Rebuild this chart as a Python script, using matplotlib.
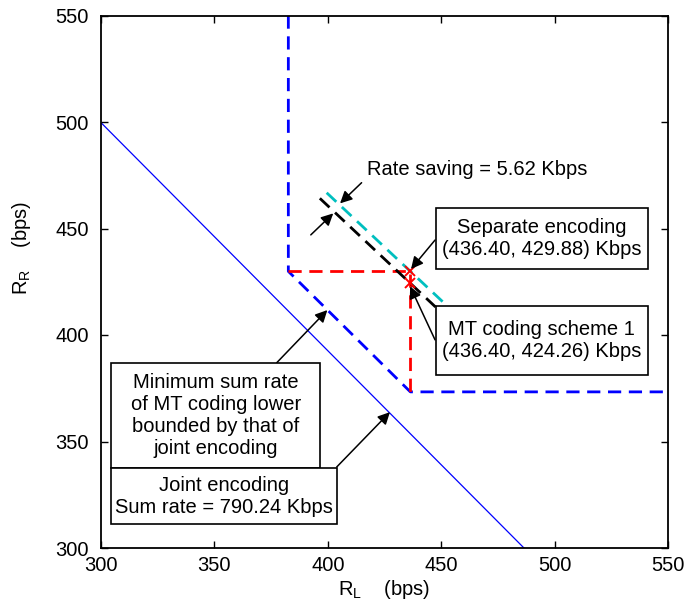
import matplotlib
matplotlib.use("Agg")
import matplotlib.pyplot as plt
from matplotlib.patches import Rectangle

plt.rcParams['font.family'] = ['Liberation Sans', 'DejaVu Sans']
plt.rcParams['lines.scale_dashes'] = False

# ---- data ----
joint_L = [300.0, 486.5]
joint_R = [499.7, 300.0]

mt_region_L = [382.6, 382.6, 436.4, 550.0]
mt_region_R = [550.0, 429.88, 373.3, 373.3]

sep_box_L = [382.6, 436.4, 436.4]
sep_box_R = [429.88, 429.88, 373.3]

sep_point = (436.40, 429.88)
mt_point = (436.40, 424.26)

sep_line_L = [399.5, 451.0]
sep_sum = sep_point[0] + sep_point[1]
mt_line_L = [396.5, 447.5]
mt_sum = mt_point[0] + mt_point[1]

xticks = [300, 350, 400, 450, 500, 550]
yticks = [300, 350, 400, 450, 500, 550]

FS = 14.5

fig = plt.figure(figsize=(6.95, 6.07), dpi=100)
ax = fig.add_axes([101/695, 1-548/607, 567/695, 532.5/607])

ax.plot(joint_L, joint_R, color='#0000ff', lw=0.9)
ax.plot(mt_region_L, mt_region_R, color='#0000ff', lw=2.0, dashes=(9.5, 5.5))
ax.plot(sep_box_L, sep_box_R, color='#ff0000', lw=2.0, dashes=(9.5, 5.5))
ax.plot(sep_line_L, [sep_sum - v for v in sep_line_L], color='#00bfbf', lw=2.0, dashes=(9.5, 5.5))
ax.plot(mt_line_L, [mt_sum - v for v in mt_line_L], color='k', lw=2.0, dashes=(9.5, 5.5))
ax.plot([sep_point[0], mt_point[0]], [sep_point[1], mt_point[1]], ls='none',
        marker='x', color='#ff0000', ms=6.5, mew=1.4)

ax.set_xlim(300, 550)
ax.set_ylim(300, 550)
ax.set_xticks(xticks)
ax.set_yticks(yticks)
ax.tick_params(direction='in', top=True, right=True, length=5, width=1,
               labelsize=FS)
ax.tick_params(axis='x', pad=6)
ax.tick_params(axis='y', pad=9)
for s in ax.spines.values():
    s.set_linewidth(1.3)

ax.set_xlabel(r'R$_\mathregular{L}$    (bps)', fontsize=FS, labelpad=2)
ax.set_ylabel(r'R$_\mathregular{R}$    (bps)', fontsize=FS)
ax.yaxis.set_label_coords(-0.12, 0.563)

arrow = dict(arrowstyle='-|>', color='k', lw=1.1, shrinkA=0, shrinkB=0,
             mutation_scale=18)

def box(x0, y0, x1, y1):
    ax.add_patch(Rectangle((x0, y0), x1 - x0, y1 - y0, transform=ax.transAxes,
                           facecolor='white', edgecolor='k', lw=1.2, zorder=5))

# arrows
ax.annotate('', xy=(405.4, 461.8), xytext=(414.9, 471.5), arrowprops=arrow)
ax.annotate('', xy=(402.4, 457.1), xytext=(392.5, 447.0), arrowprops=arrow)
ax.annotate('', xy=(436.7, 431.0), xytext=(447.3, 444.6), arrowprops=arrow)
ax.annotate('', xy=(436.3, 422.8), xytext=(447.3, 397.7), arrowprops=arrow)
ax.annotate('', xy=(399.8, 411.7), xytext=(377.5, 387.0), arrowprops=arrow)
ax.annotate('', xy=(427.4, 363.8), xytext=(403.9, 338.0), arrowprops=arrow)

ax.text(0.663, 0.71, 'Rate saving = 5.62 Kbps', transform=ax.transAxes,
        ha='center', va='center', fontsize=FS)

# boxes
box(0.5908, 0.5234, 0.9642, 0.638)
ax.text((0.5908 + 0.9642) / 2, (0.5234 + 0.638) / 2,
        'Separate encoding\n(436.40, 429.88) Kbps', transform=ax.transAxes,
        ha='center', va='center', fontsize=FS, zorder=6)
box(0.5908, 0.3249, 0.9642, 0.4545)
ax.text((0.5908 + 0.9642) / 2, (0.3249 + 0.4545) / 2,
        'MT coding scheme 1\n(436.40, 424.26) Kbps', transform=ax.transAxes,
        ha='center', va='center', fontsize=FS, zorder=6)
box(0.0176, 0.1502, 0.3869, 0.348)
ax.text((0.0176 + 0.3869) / 2, (0.1502 + 0.348) / 2,
        'Minimum sum rate\nof MT coding lower\nbounded by that of\njoint encoding',
        transform=ax.transAxes, ha='center', va='center', fontsize=FS, zorder=6)
box(0.0176, 0.0451, 0.4162, 0.1502)
ax.text((0.0176 + 0.4162) / 2, (0.0451 + 0.1502) / 2,
        'Joint encoding\nSum rate = 790.24 Kbps',
        transform=ax.transAxes, ha='center', va='center', fontsize=FS, zorder=6)

fig.savefig('out.png', dpi=100)
